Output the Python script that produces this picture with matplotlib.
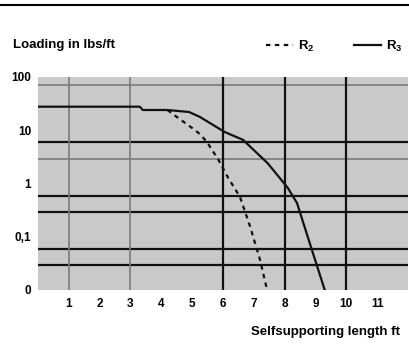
import matplotlib.pyplot as plt
from matplotlib.lines import Line2D

plt.rcParams['font.family'] = ['Liberation Sans', 'DejaVu Sans']
plt.rcParams['mathtext.fontset'] = 'custom'
plt.rcParams['mathtext.bf'] = 'Liberation Sans:bold'

# load curves (lbs/ft) against self-supporting length (ft)
r3_len = [0, 3.3, 3.4, 4.2, 4.9, 5.25, 6.05, 6.65, 7.45, 8.1, 8.4, 8.85, 9.3]
r3_load = [27.7, 27.7, 24, 24, 22, 17.8, 9.3, 6.6, 2.4, 0.83, 0.43, 0.065, 0.01]

r2_len = [4.2, 4.5, 5.0, 5.25, 5.48, 5.85, 6.15, 6.55, 6.88, 7.2, 7.43]
r2_load = [24, 17.8, 11, 8.5, 6.0, 2.8, 1.33, 0.56, 0.155, 0.037, 0.01]

x_ticks = list(range(1, 12))
y_ticks = [0.01, 0.1, 1, 10, 100]
y_tick_labels = ['0', '0,1', '1', '10', '100']

# grid lines: (value, heavy?)
h_grid = [(70.8, False), (6.1, True), (2.93, False), (0.593, True),
          (0.297, True), (0.059, True), (0.0297, True)]
v_grid = [(1, False), (3, False), (6, True), (8, True), (10, True)]

fig = plt.figure(figsize=(4.1, 3.64), dpi=100)
ax = fig.add_axes([38/410, 74/364, 370/410, 213/364])
ax.set_facecolor('#c9c9c9')

for val, heavy in h_grid:
    if heavy:
        ax.axhline(val, color='#111111', lw=1.6, zorder=1)
    else:
        ax.axhline(val, color='#7a7a7a', lw=1.2, zorder=1)
for val, heavy in v_grid:
    if heavy:
        ax.axvline(val, color='#111111', lw=1.6, zorder=1)
    else:
        ax.axvline(val, color='#7a7a7a', lw=1.2, zorder=1)

ax.plot(r2_len, r2_load, color='#111111', lw=1.6, ls=(0, (2, 2)),
        label=r'$\mathbf{R}_\mathbf{2}$', zorder=3)
ax.plot(r3_len, r3_load, color='#111111', lw=1.6,
        label=r'$\mathbf{R}_\mathbf{3}$', zorder=3)

ax.set_yscale('log')
ax.set_xlim(0, 12)
ax.set_ylim(0.01, 100)
ax.set_xticks(x_ticks)
ax.set_xticklabels([str(v) for v in x_ticks])
ax.set_yticks(y_ticks)
ax.set_yticklabels(y_tick_labels)
ax.minorticks_off()
ax.tick_params(axis='x', length=0, pad=6, labelsize=8.5)
ax.tick_params(axis='y', length=0, pad=5, labelsize=8.5)
for lbl in ax.get_xticklabels() + ax.get_yticklabels():
    lbl.set_fontweight('bold')
for s in ax.spines.values():
    s.set_visible(False)

fig.text(13/410, 1 - 45/364, 'Loading in lbs/ft', fontsize=9.5,
         fontweight='bold', va='center', ha='left')
fig.text(251/410, 1 - 332/364, 'Selfsupporting length ft', fontsize=9.5,
         fontweight='bold', va='center', ha='left')

ax.legend(loc='center right', bbox_to_anchor=(403/410, 1 - 46/364),
          bbox_transform=fig.transFigure, ncol=2, frameon=False,
          fontsize=9.5, handlelength=2.05, handletextpad=0.4,
          columnspacing=3.0, borderpad=0, borderaxespad=0)

fig.add_artist(Line2D([0, 1], [1 - 5/364, 1 - 5/364], color='black', lw=1.5))

fig.savefig('out.png', dpi=100)
